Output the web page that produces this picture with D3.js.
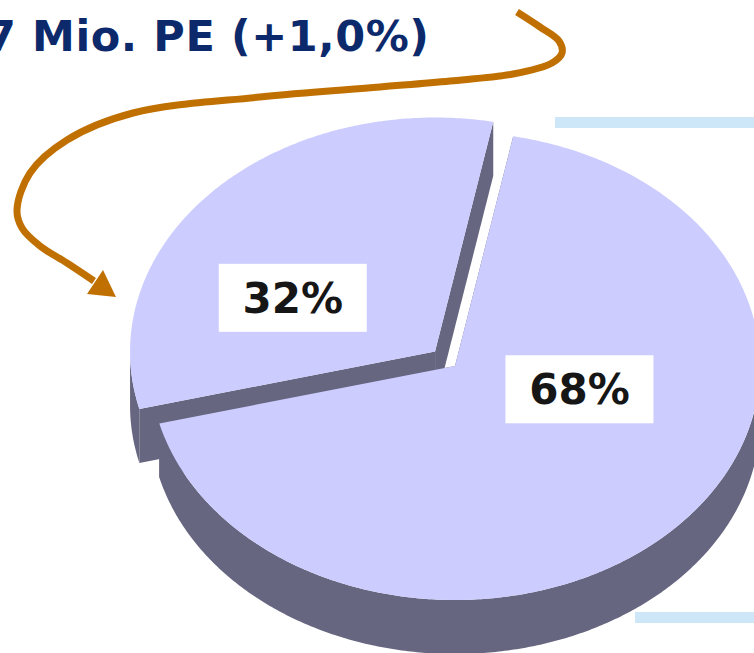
<!DOCTYPE html>
<html>
<head>
<meta charset="utf-8">
<script src="https://d3js.org/d3.v7.min.js"></script>
<style>
  body { margin: 0; background: #fff; }
  svg { display: block; }
</style>
</head>
<body>
<div id="chart"></div>
<script>
// data
const categories = ["Teil 1", "Teil 2"];
const shares = [68, 32];
const shareLabels = ["68%", "32%"];
const explodeBy = [0, 0.09];
// label spot, in slice-local polar coordinates (deg from 12 o'clock, fraction of radius)
const labelAngleDeg = [103.7, 296.2];
const labelRadius = [0.42, 0.52];
const titleText = "7 Mio. PE (+1,0%)";

const width = 754, height = 653;
const cx = 455, cy = 366, rx = 305, ry = 234, depth = 54;
const topColor = "#ccccff", sideColor = "#666680";

const svg = d3.select("#chart").append("svg")
    .attr("width", width)
    .attr("height", height);

// title, cut at the left like the original slide
svg.append("text")
    .attr("x", -14)
    .attr("y", 51)
    .attr("textLength", 443)
    .attr("lengthAdjust", "spacing")
    .style("font-family", "'DejaVu Sans', Verdana, sans-serif")
    .style("font-weight", "bold")
    .style("font-size", "43px")
    .attr("fill", "#0c2a6b")
    .text(titleText);

// light blue bars at the right edge
svg.append("rect").attr("x", 555).attr("y", 117).attr("width", 199).attr("height", 11).attr("fill", "#cde7f8");
svg.append("rect").attr("x", 635).attr("y", 612).attr("width", 119).attr("height", 11).attr("fill", "#cde7f8");

// orange arrow
const arrowPts = [[517,12],[540,27],[559,41],[562,53],[552,63],[513,74],[450,81],[380,87],
    [260,97],[133,113],[67,140],[30,173],[17,210],[22,228],[40,246],[67,263],[94,281]];
svg.append("path")
    .attr("d", d3.line().curve(d3.curveCatmullRom)(arrowPts))
    .attr("fill", "none")
    .attr("stroke", "#c07000")
    .attr("stroke-width", 7);
svg.append("path")
    .attr("d", "M116,297L103,270L87,294Z")
    .attr("fill", "#c07000");

// pie
const pie = d3.pie()
    .sort(null)
    .value(d => d)
    .startAngle(11 * Math.PI / 180)
    .endAngle(371 * Math.PI / 180);
const arcs = pie(shares);

function point(ox, oy, a, r) {
    return [ox + rx * r * Math.sin(a), oy - ry * r * Math.cos(a)];
}
function arcPoints(ox, oy, a0, a1, dy) {
    const n = Math.max(2, Math.ceil(Math.abs(a1 - a0) / 0.01));
    return d3.range(n + 1).map(i => {
        const p = point(ox, oy, a0 + (a1 - a0) * i / n, 1);
        return [p[0], p[1] + dy];
    });
}
const line = d3.line();

function drawSlice(d, i) {
    const mid = (d.startAngle + d.endAngle) / 2;
    const ox = cx + rx * explodeBy[i] * Math.sin(mid);
    const oy = cy - ry * explodeBy[i] * Math.cos(mid);
    const g = svg.append("g").attr("class", "slice");

    // cut faces
    [d.startAngle, d.endAngle].forEach(a => {
        const e = point(ox, oy, a, 1);
        g.append("path")
            .attr("d", line([[ox, oy], e, [e[0], e[1] + depth], [ox, oy + depth]]) + "Z")
            .attr("fill", sideColor);
    });

    // outer wall, front half only (90..270 deg, also one turn later)
    [[Math.PI / 2, 3 * Math.PI / 2], [Math.PI / 2 + 2 * Math.PI, 3 * Math.PI / 2 + 2 * Math.PI]].forEach(([f0, f1]) => {
        const b0 = Math.max(d.startAngle, f0), b1 = Math.min(d.endAngle, f1);
        if (b1 <= b0) return;
        const pts = arcPoints(ox, oy, b0, b1, 0).concat(arcPoints(ox, oy, b1, b0, depth));
        g.append("path")
            .attr("d", line(pts) + "Z")
            .attr("fill", sideColor);
    });

    // top
    const topPts = [[ox, oy]].concat(arcPoints(ox, oy, d.startAngle, d.endAngle, 0));
    g.append("path")
        .attr("d", line(topPts) + "Z")
        .attr("fill", topColor);

    return [ox, oy];
}

// back slice first, then the front one
const origins = [];
[1, 0].forEach(i => { origins[i] = drawSlice(arcs[i], i); });

// labels
shares.forEach((v, i) => {
    const p = point(origins[i][0], origins[i][1], labelAngleDeg[i] * Math.PI / 180, labelRadius[i]);
    const lg = svg.append("g").attr("transform", `translate(${p[0]},${p[1]})`);
    lg.append("rect")
        .attr("x", -74).attr("y", -34)
        .attr("width", 148).attr("height", 68)
        .attr("fill", "#fff");
    lg.append("text")
        .attr("text-anchor", "middle")
        .attr("y", 15)
        .style("font-family", "'DejaVu Sans', sans-serif")
        .style("font-weight", "bold")
        .style("font-size", "42px")
        .attr("fill", "#161616")
        .text(shareLabels[i]);
});
</script>
</body>
</html>
